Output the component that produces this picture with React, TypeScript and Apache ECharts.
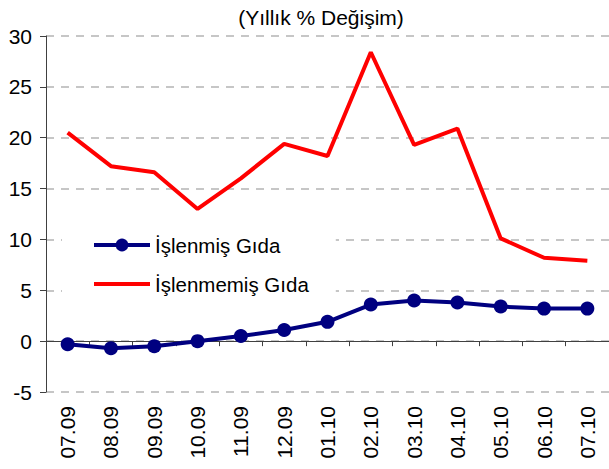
import React, { useEffect, useRef } from "react";
import * as echarts from "echarts";

const categories = ["07.09", "08.09", "09.09", "10.09", "11.09", "12.09", "01.10", "02.10", "03.10", "04.10", "05.10", "06.10", "07.10"];
const islenmis = [-0.3, -0.7, -0.5, 0.0, 0.5, 1.1, 1.9, 3.6, 4.0, 3.8, 3.4, 3.2, 3.2];
const islenmemis = [20.5, 17.2, 16.6, 13.0, 16.0, 19.4, 18.2, 28.4, 19.3, 20.9, 10.1, 8.2, 7.9];
const titleText = "(Yıllık % Değişim)";
const seriesNames = ["İşlenmiş Gıda", "İşlenmemiş Gıda"];

const FONT = "'Liberation Sans', Arial, sans-serif";

export default function App() {
  const ref = useRef<HTMLDivElement>(null);
  useEffect(() => {
    document.body.style.margin = "0";
    if (!ref.current) return;
    const chart = echarts.init(ref.current, undefined, { renderer: "svg" });
    chart.setOption({
      animation: false,
      backgroundColor: "#ffffff",
      graphic: [
        {
          type: "text",
          x: 321,
          y: 17,
          style: {
            text: titleText,
            fill: "#000",
            font: `21px ${FONT}`,
            align: "center",
            verticalAlign: "middle",
          },
        },
      ],
      legend: {
        orient: "vertical",
        left: 62,
        top: 219,
        padding: [15, 27, 10, 30],
        backgroundColor: "#ffffff",
        itemWidth: 56,
        itemHeight: 16,
        itemGap: 17,
        selectedMode: false,
        textStyle: { fontSize: 20.5, fontFamily: FONT, color: "#000", lineHeight: 22 },
        data: [
          { name: seriesNames[0], lineStyle: { width: 4, color: "#000080" } },
          { name: seriesNames[1], lineStyle: { width: 4, color: "#ff0000" }, itemStyle: { opacity: 0 } },
        ],
      },
      grid: { left: 46, top: 36, width: 565, height: 356 },
      xAxis: [
        {
          type: "category",
          data: categories,
          position: "bottom",
          boundaryGap: true,
          axisLine: { show: true, onZero: true, lineStyle: { color: "#404040", width: 1 } },
          axisTick: { show: true, length: 5, inside: false, lineStyle: { color: "#404040" } },
          axisLabel: { show: false },
          splitLine: { show: false },
        },
        {
          type: "category",
          data: categories,
          position: "bottom",
          boundaryGap: true,
          axisLine: { show: false, onZero: false },
          axisTick: { show: false },
          axisLabel: {
            show: true,
            rotate: 90,
            margin: 14,
            interval: 0,
            fontSize: 21,
            fontFamily: FONT,
            color: "#000",
          },
          splitLine: { show: false },
        },
      ],
      yAxis: {
        type: "value",
        min: -5,
        max: 30,
        interval: 5,
        axisLine: { show: true, lineStyle: { color: "#404040", width: 1 } },
        axisTick: { show: true, length: 6, inside: false, lineStyle: { color: "#404040" } },
        axisLabel: { margin: 14, fontSize: 21, fontFamily: FONT, color: "#000" },
        splitLine: { show: true, lineStyle: { type: [8, 7], color: "#b4b4b4", width: 1.5 } },
      },
      series: [
        {
          name: seriesNames[0],
          type: "line",
          xAxisIndex: 0,
          data: islenmis,
          symbol: "circle",
          symbolSize: 14,
          lineStyle: { color: "#000080", width: 4 },
          itemStyle: { color: "#000080" },
          z: 3,
        },
        {
          name: seriesNames[1],
          type: "line",
          xAxisIndex: 0,
          data: islenmemis,
          symbol: "none",
          showSymbol: false,
          lineStyle: { color: "#ff0000", width: 4 },
          itemStyle: { color: "#ff0000" },
          z: 2,
        },
      ],
    });
    return () => chart.dispose();
  }, []);
  return <div ref={ref} style={{ position: "absolute", left: 0, top: 0, width: 609, height: 469 }} />;
}
